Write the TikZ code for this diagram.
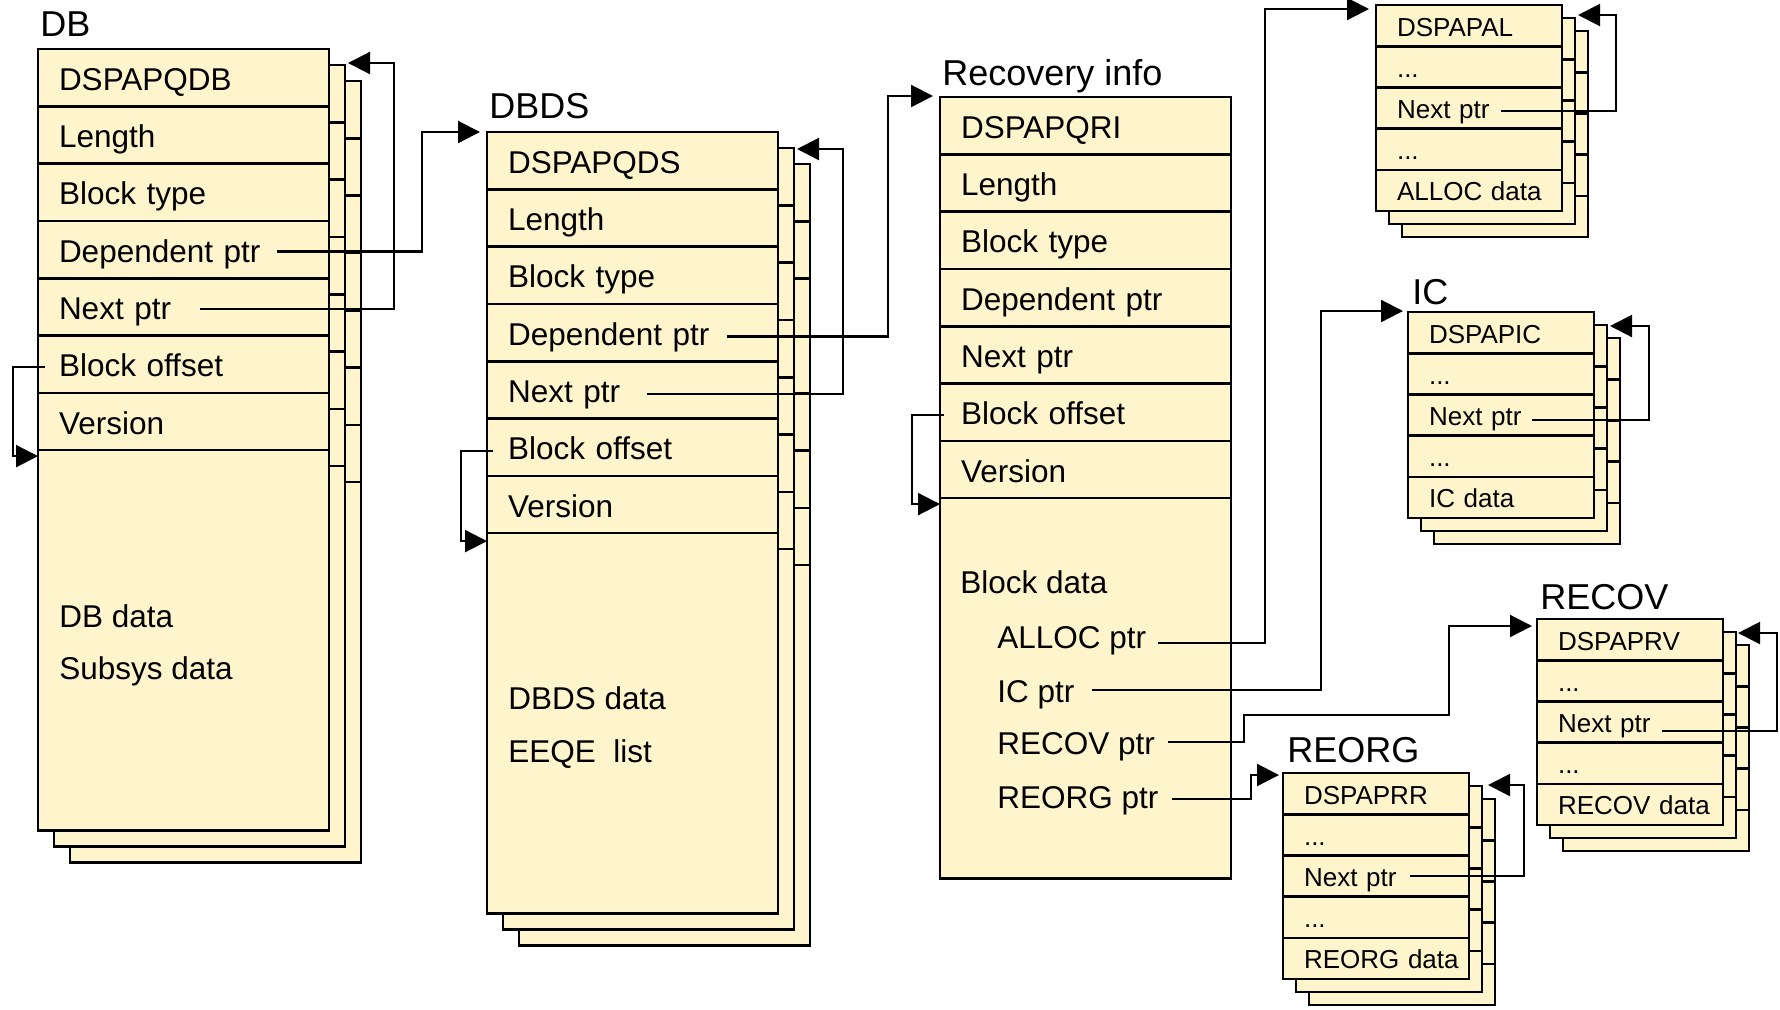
\documentclass[tikz,border=0pt]{standalone}
\usepackage{fontspec}
\setmainfont{Liberation Sans}
\usetikzlibrary{shadows,arrows.meta}
\definecolor{paper}{RGB}{255,245,205}
\begin{document}
\begin{tikzpicture}[x=0.5pt, y=-0.5pt]
        \tikzset{
          sheet/.style={draw, fill=paper, line width=1.3pt, outer sep=0pt, anchor=north west,
            inner xsep=10.5pt, inner ysep=0pt, align=left},
          bigrow/.style={sheet, text width=124.5pt, minimum height=28.65pt,
            text height=12.6pt, text depth=0pt, font=\fontsize{15.75}{19}\selectfont},
          bigdata/.style={sheet, text width=124.5pt, minimum height=190.25pt},
          smallrow/.style={sheet, text width=72pt, minimum height=20.6pt,
            text height=10.4pt, text depth=0pt, font=\fontsize{13}{16}\selectfont},
          bigstack/.style={
            copy shadow={shadow xshift=16pt, shadow yshift=-16pt, draw=black, fill=paper},
            copy shadow={shadow xshift=8pt, shadow yshift=-8pt, draw=black, fill=paper}},
          smallstack/.style={
            copy shadow={shadow xshift=13pt, shadow yshift=-13pt, draw=black, fill=paper},
            copy shadow={shadow xshift=6.5pt, shadow yshift=-6.5pt, draw=black, fill=paper}},
          title/.style={anchor=base west, inner sep=0pt, font=\fontsize{18}{22}\selectfont},
          ptrtext/.style={anchor=base west, inner sep=0pt, font=\fontsize{15.75}{19}\selectfont},
          link/.style={line width=1.1pt, -{Triangle[length=11pt,width=11pt]}},
        }
        \useasboundingbox (0,0) rectangle (1780,1009);
        % DB block
        \node [title] (dbtitle) at (40,36) {DB};
        \node [bigrow, bigstack] (dbhead) at (38,49) {DSPAPQDB};
        \node [bigrow, bigstack] (dblen) at (38,106.3) {Length};
        \node [bigrow, bigstack] (dbtype) at (38,163.6) {Block type};
        \node [bigrow, bigstack] (dbdep) at (38,220.9) {Dependent ptr};
        \node [bigrow, bigstack] (dbnext) at (38,278.2) {Next ptr};
        \node [bigrow, bigstack] (dboff) at (38,335.5) {Block offset};
        \node [bigrow, bigstack] (dbver) at (38,392.8) {Version};
        \node [bigdata, bigstack] (dbdata) at (38,450.1) {};
        \node [ptrtext] (dbdatatext) at (59,627) {DB data};
        \node [ptrtext] (dbsubsys) at (59,679) {Subsys data};
        % DBDS block
        \node [title] (dstitle) at (489,118) {DBDS};
        \node [bigrow, bigstack] (dshead) at (487,132) {DSPAPQDS};
        \node [bigrow, bigstack] (dslen) at (487,189.3) {Length};
        \node [bigrow, bigstack] (dstype) at (487,246.6) {Block type};
        \node [bigrow, bigstack] (dsdep) at (487,303.9) {Dependent ptr};
        \node [bigrow, bigstack] (dsnext) at (487,361.2) {Next ptr};
        \node [bigrow, bigstack] (dsoff) at (487,418.5) {Block offset};
        \node [bigrow, bigstack] (dsver) at (487,475.8) {Version};
        \node [bigdata, bigstack] (dsdata) at (487,533.1) {};
        \node [ptrtext] (dsdatatext) at (508,709) {DBDS data};
        \node [ptrtext] (dseeqe) at (508,762) {EEQE\ \ list};
        % recovery info, a single block
        \node [title] (rititle) at (942,85) {Recovery info};
        \node [bigrow] (rihead) at (940,97) {DSPAPQRI};
        \node [bigrow] (rilen) at (940,154.3) {Length};
        \node [bigrow] (ritype) at (940,211.6) {Block type};
        \node [bigrow] (ridep) at (940,268.9) {Dependent ptr};
        \node [bigrow] (rinext) at (940,326.2) {Next ptr};
        \node [bigrow] (rioff) at (940,383.5) {Block offset};
        \node [bigrow] (river) at (940,440.8) {Version};
        \node [bigdata] (ridata) at (940,498.1) {};
        \node [ptrtext] (riblock) at (960,593) {Block data};
        \node [ptrtext] (allocptr) at (997,648) {ALLOC ptr};
        \node [ptrtext] (icptr) at (997,702) {IC ptr};
        \node [ptrtext] (recovptr) at (997,754) {RECOV ptr};
        \node [ptrtext] (reorgptr) at (997,808) {REORG ptr};
        % ALLOC
        \node [smallrow, smallstack] (alhead) at (1376,5) {DSPAPAL};
        \node [smallrow, smallstack] (aldotsa) at (1376,46.2) {...};
        \node [smallrow, smallstack] (alnext) at (1376,87.4) {Next ptr};
        \node [smallrow, smallstack] (aldotsb) at (1376,128.6) {...};
        \node [smallrow, smallstack] (aldata) at (1376,169.8) {ALLOC~data};
        % IC
        \node [title] (ictitle) at (1412,304) {IC};
        \node [smallrow, smallstack] (ichead) at (1408,312) {DSPAPIC};
        \node [smallrow, smallstack] (icdotsa) at (1408,353.2) {...};
        \node [smallrow, smallstack] (icnext) at (1408,394.4) {Next ptr};
        \node [smallrow, smallstack] (icdotsb) at (1408,435.6) {...};
        \node [smallrow, smallstack] (icdata) at (1408,476.8) {IC~data};
        % RECOV
        \node [title] (rvtitle) at (1540,609) {RECOV};
        \node [smallrow, smallstack] (rvhead) at (1537,619) {DSPAPRV};
        \node [smallrow, smallstack] (rvdotsa) at (1537,660.2) {...};
        \node [smallrow, smallstack] (rvnext) at (1537,701.4) {Next ptr};
        \node [smallrow, smallstack] (rvdotsb) at (1537,742.6) {...};
        \node [smallrow, smallstack] (rvdata) at (1537,783.8) {RECOV~data};
        % REORG
        \node [title] (rgtitle) at (1287,762) {REORG};
        \node [smallrow, smallstack] (rghead) at (1283,773) {DSPAPRR};
        \node [smallrow, smallstack] (rgdotsa) at (1283,814.2) {...};
        \node [smallrow, smallstack] (rgnext) at (1283,855.4) {Next ptr};
        \node [smallrow, smallstack] (rgdotsb) at (1283,896.6) {...};
        \node [smallrow, smallstack] (rgdata) at (1283,937.8) {REORG~data};
        % 
        % next ptr chains
        \draw [link] ([shift={(162,2)}]dbnext.west) -| ([shift={(65,14)}]dbhead.north east) -- ([shift={(19,14)}]dbhead.north east);
        \draw [link] ([shift={(160,4)}]dsnext.west) -| ([shift={(65,17)}]dshead.north east) -- ([shift={(19,17)}]dshead.north east);
        \draw [link] ([shift={(125,3)}]alnext.west) -| ([shift={(54,10)}]alhead.north east) -- ([shift={(16,10)}]alhead.north east);
        \draw [link] ([shift={(124,5)}]icnext.west) -| ([shift={(55,14)}]ichead.north east) -- ([shift={(16,14)}]ichead.north east);
        \draw [link] ([shift={(125,9)}]rvnext.west) -| ([shift={(54,14)}]rvhead.north east) -- ([shift={(15,14)}]rvhead.north east);
        \draw [link] ([shift={(127,0)}]rgnext.west) -| ([shift={(55,12)}]rghead.north east) -- ([shift={(19,12)}]rghead.north east);
        % dependent ptrs
        \draw [link] ([shift={(239,2)}]dbdep.west) -| ([shift={(-65,0)}]dshead.north west) -- ([shift={(-7,0)}]dshead.north west);
        \draw [link] ([shift={(240,4)}]dsdep.west) -| ([shift={(-52,-1)}]rihead.north west) -- ([shift={(-7,-1)}]rihead.north west);
        % block offsets
        \draw [link] ([shift={(7,3)}]dboff.west) -| ([shift={(-25,6)}]dbdata.north west) -- ([shift={(0,6)}]dbdata.north west);
        \draw [link] ([shift={(6,4)}]dsoff.west) -| ([shift={(-26,8)}]dsdata.north west) -- ([shift={(0,8)}]dsdata.north west);
        \draw [link] ([shift={(4,3)}]rioff.west) -| ([shift={(-28,6)}]ridata.north west) -- ([shift={(0,6)}]ridata.north west);
        % block data ptrs
        \draw [link] ([shift={(11,-5)}]allocptr.base east) -| ([shift={(-111,4)}]alhead.north west) -- ([shift={(-7,4)}]alhead.north west);
        \draw [link] ([shift={(17,-12)}]icptr.base east) -| ([shift={(-87,-1)}]ichead.north west) -- ([shift={(-5,-1)}]ichead.north west);
        \draw [link] ([shift={(13,-12)}]recovptr.base east) -- ++(76,0) |- ([shift={(-88,96)}]rvhead.north west) |- ([shift={(-5,7)}]rvhead.north west);
        \draw [link] ([shift={(13,-9)}]reorgptr.base east) -- ++(79,0) |- ([shift={(-4,2)}]rghead.north west);
    \end{tikzpicture}
\end{document}
